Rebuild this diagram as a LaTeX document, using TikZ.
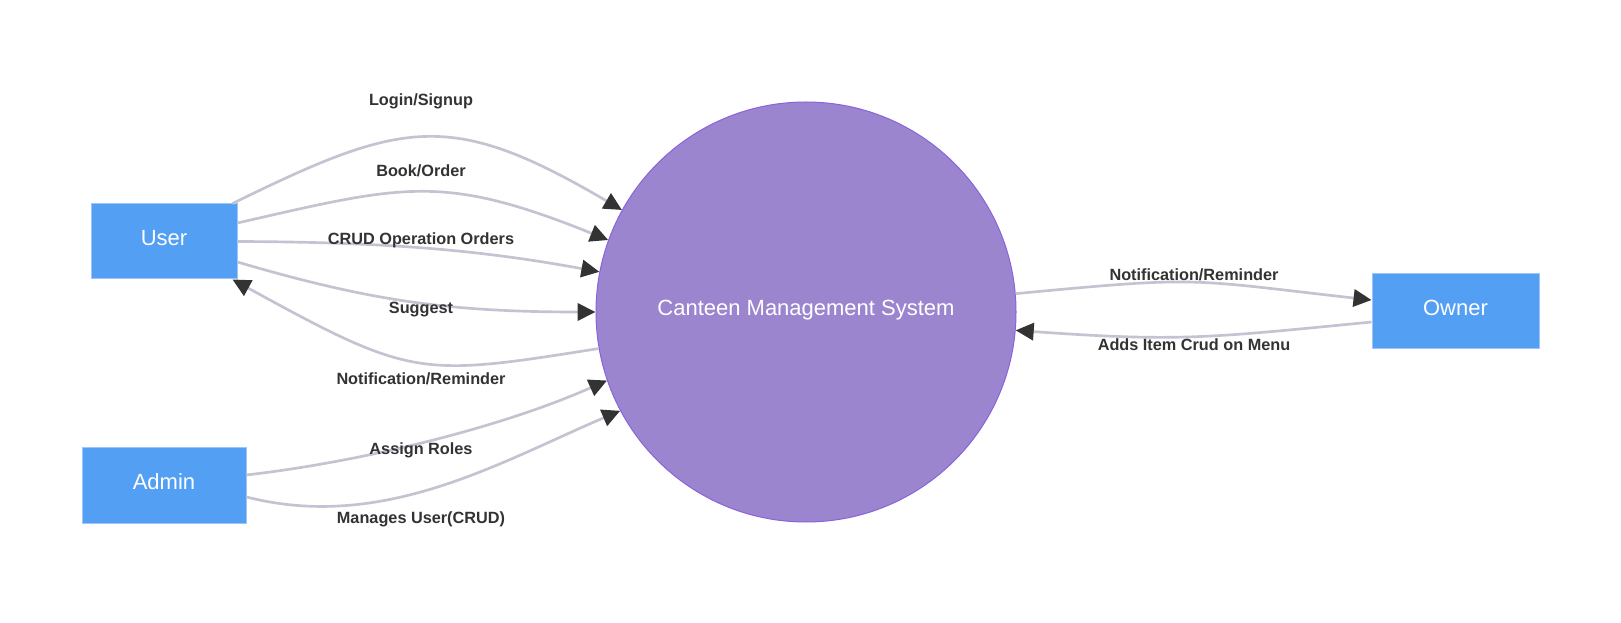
\documentclass[tikz,border=0pt]{standalone}
\usepackage{fontspec}
\setmainfont{Liberation Sans}
\usetikzlibrary{arrows.meta}
\definecolor{entfill}{HTML}{529FF3}
\definecolor{entdraw}{HTML}{9DC5F5}
\definecolor{cmsfill}{HTML}{9B85CF}
\definecolor{cmsdraw}{HTML}{8A63DC}
\definecolor{edgec}{HTML}{C3C4D1}
\definecolor{arrowc}{HTML}{333333}
\definecolor{labelc}{HTML}{333333}
\begin{document}
\begin{tikzpicture}[x=0.75pt,y=-0.75pt,
  entity/.style={draw=entdraw,line width=0.75pt,fill=entfill,text=white,
    font=\fontsize{16.5}{18}\selectfont,inner sep=0pt,text height=11.8pt,text depth=6pt},
  process/.style={circle,draw=cmsdraw,line width=0.75pt,fill=cmsfill,text=white,
    font=\fontsize{16.5}{18}\selectfont,minimum size=315pt,inner sep=0pt,text height=11.8pt,text depth=6pt},
  flow/.style={draw=edgec,line width=2pt,-{Triangle[length=13.5pt,width=13pt,color=arrowc]}},
  flowlabel/.style={text=labelc,font=\bfseries\fontsize{12.2}{14}\selectfont,inner sep=1pt}]
\fill[white] (0,0) rectangle (1621,623);
\useasboundingbox (0,0) rectangle (1621,623);

\node[entity,minimum width=109.5pt,minimum height=56.25pt] (user) at (164,241.5) {User};
\node[entity,minimum width=123pt,minimum height=56.25pt] (admin) at (164,485.5) {Admin};
\node[entity,minimum width=125.25pt,minimum height=56.25pt] (owner) at (1455.5,311.5) {Owner};
\node[process] (cms) at (806,312) {Canteen Management System};

\draw[flow] ([xshift=-3.75pt]user.north east) .. controls (403,120) and (450,109) .. (cms.151.5);
\draw[flow] ([yshift=13.9pt]user.east) .. controls (404,185) and (442,173) .. (cms.160);
\draw[flow] (user.east) .. controls (387,242) and (480,250) .. (cms.169.5);
\draw[flow] ([yshift=-15.4pt]user.east) .. controls (367,300) and (446,312) .. (cms.180);
\draw[flow] (cms.190) .. controls (419,377) and (412,378) .. ([xshift=-3.75pt]user.south east);
\draw[flow] ([yshift=7.9pt]admin.east) .. controls (360,462) and (500,428) .. (cms.199.5);
\draw[flow] ([yshift=-8.6pt]admin.east) .. controls (383,532) and (500,462) .. (cms.208);
\draw[flow] (cms.5.2) .. controls (1202,276) and (1185,279) .. ([yshift=8.6pt]owner.west);
\draw[flow] ([yshift=-7.9pt]owner.west) .. controls (1207,338) and (1180,342) .. (cms.-5.2);

\node[flowlabel] (l1) at (421,101) {Login/Signup};
\node[flowlabel] (l2) at (421,171) {Book/Order};
\node[flowlabel] (l3) at (421,240) {CRUD Operation Orders};
\node[flowlabel] (l4) at (421,310) {Suggest};
\node[flowlabel] (l5) at (421,379) {Notification/Reminder};
\node[flowlabel] (l6) at (421,450) {Assign Roles};
\node[flowlabel] (l7) at (421,519) {Manages User(CRUD)};
\node[flowlabel] (l8) at (1194,275) {Notification/Reminder};
\node[flowlabel] (l9) at (1194,345) {Adds Item Crud on Menu};
\end{tikzpicture}
\end{document}
